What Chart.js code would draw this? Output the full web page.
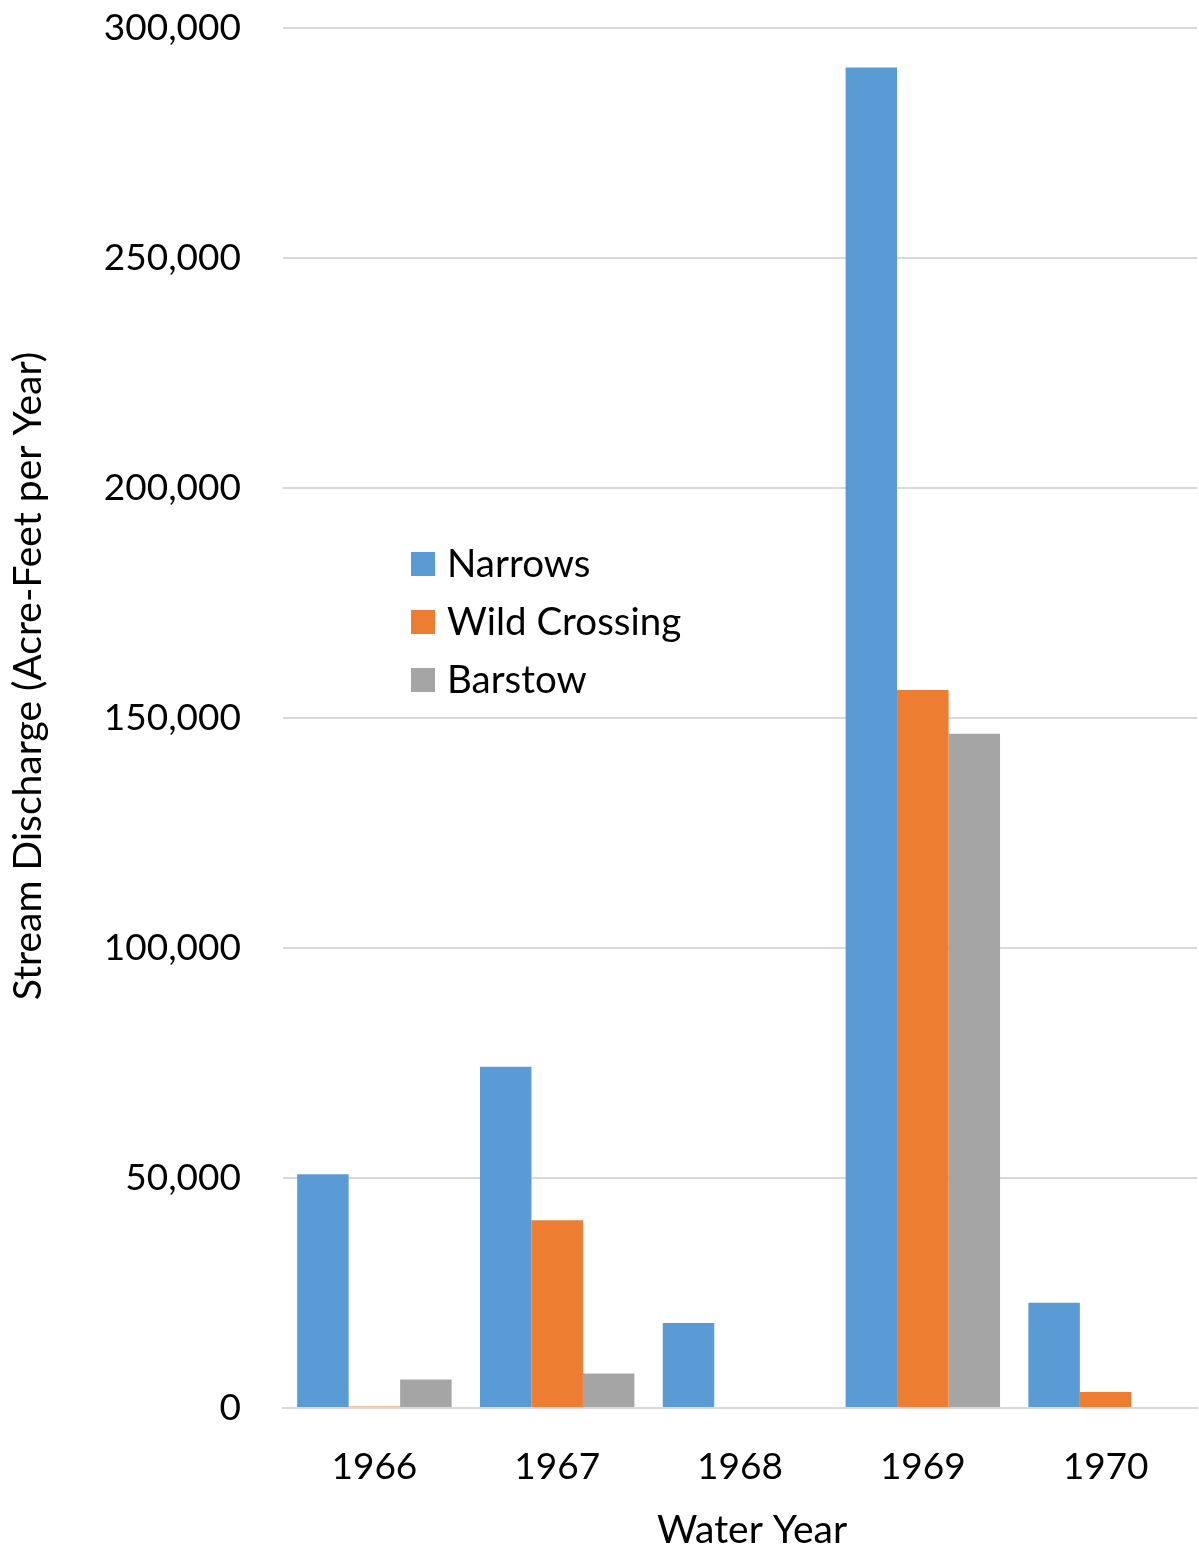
<!DOCTYPE html>
<html>
<head>
<meta charset="utf-8">
<title>Stream Discharge by Water Year</title>
<script src="https://cdn.jsdelivr.net/npm/chart.js@4.4.1/dist/chart.umd.min.js"></script>
<style>
  html, body { margin: 0; padding: 0; background: #ffffff; }
  #wrap { width: 1199px; height: 1553px; }
</style>
</head>
<body>
<div id="wrap"><canvas id="chart" width="1199" height="1553"></canvas></div>
<script>
// Annual stream discharge (acre-feet per year) at three gauging stations
const waterYears = ['1966', '1967', '1968', '1969', '1970'];
const narrows = [50800, 74200, 18500, 291400, 22900];
const wildCrossing = [300, 40800, 0, 156100, 3500];
const barstow = [6200, 7500, 0, 146600, 0];

const seriesNames = ['Narrows', 'Wild Crossing', 'Barstow'];
const seriesColors = ['#5B9BD5', '#ED7D31', '#A5A5A5'];

const yTitle = 'Stream Discharge (Acre-Feet per Year)';
const xTitle = 'Water Year';

const FONT = 'Lato, "Open Sans", sans-serif';
const TICK_SIZE = 37;
const LEGEND_SIZE = 38.5;
const TITLE_SIZE = 39;

// Legend drawn inside the plot area, plus the two axis titles
const overlay = {
  id: 'overlay',
  afterDraw(chart) {
    const ctx = chart.ctx;
    const area = chart.chartArea;
    ctx.save();
    ctx.fillStyle = '#000000';

    // legend
    ctx.font = LEGEND_SIZE + 'px ' + FONT;
    const lx = area.left + 128;
    let ly = 552;
    chart.data.datasets.forEach((ds) => {
      ctx.fillStyle = ds.backgroundColor;
      ctx.fillRect(lx, ly, 24, 24);
      ctx.fillStyle = '#000000';
      ctx.textAlign = 'left';
      ctx.textBaseline = 'middle';
      ctx.fillText(ds.label, lx + 36, ly + 13);
      ly += 58;
    });

    // x axis title
    ctx.font = TITLE_SIZE + 'px ' + FONT;
    ctx.textAlign = 'center';
    ctx.textBaseline = 'middle';
    ctx.fillText(xTitle, 752, 1530);

    // y axis title
    ctx.translate(28, 676);
    ctx.rotate(-Math.PI / 2);
    ctx.fillText(yTitle, 0, 0);
    ctx.restore();
  }
};

const datasets = [narrows, wildCrossing, barstow].map((vals, i) => ({
  label: seriesNames[i],
  data: vals,
  backgroundColor: seriesColors[i],
  borderWidth: 0,
  categoryPercentage: 0.845,
  barPercentage: 1.0
}));

new Chart(document.getElementById('chart'), {
  type: 'bar',
  data: { labels: waterYears, datasets },
  plugins: [overlay],
  options: {
    responsive: false,
    animation: false,
    layout: { padding: { top: 28, right: 2, left: 0, bottom: 0 } },
    plugins: {
      legend: { display: false },
      tooltip: { enabled: false }
    },
    scales: {
      x: {
        grid: { display: false, drawTicks: false },
        border: { display: true, color: '#d9d9d9', width: 2 },
        ticks: {
          color: '#000000',
          font: { family: FONT, size: TICK_SIZE },
          padding: 37
        },
        afterFit(scale) {
          scale.height = 145;
          scale.paddingLeft = 0;
          scale.paddingRight = 0;
        }
      },
      y: {
        min: 0,
        max: 300000,
        grid: { color: '#d9d9d9', lineWidth: 2, drawTicks: false },
        border: { display: false },
        ticks: {
          stepSize: 50000,
          color: '#000000',
          font: { family: FONT, size: TICK_SIZE },
          padding: 42,
          callback: (v) => Number(v).toLocaleString('en-US')
        },
        afterFit(scale) {
          scale.width = 283;
          scale.paddingTop = 0;
          scale.paddingBottom = 0;
        }
      }
    }
  }
});
</script>
</body>
</html>
